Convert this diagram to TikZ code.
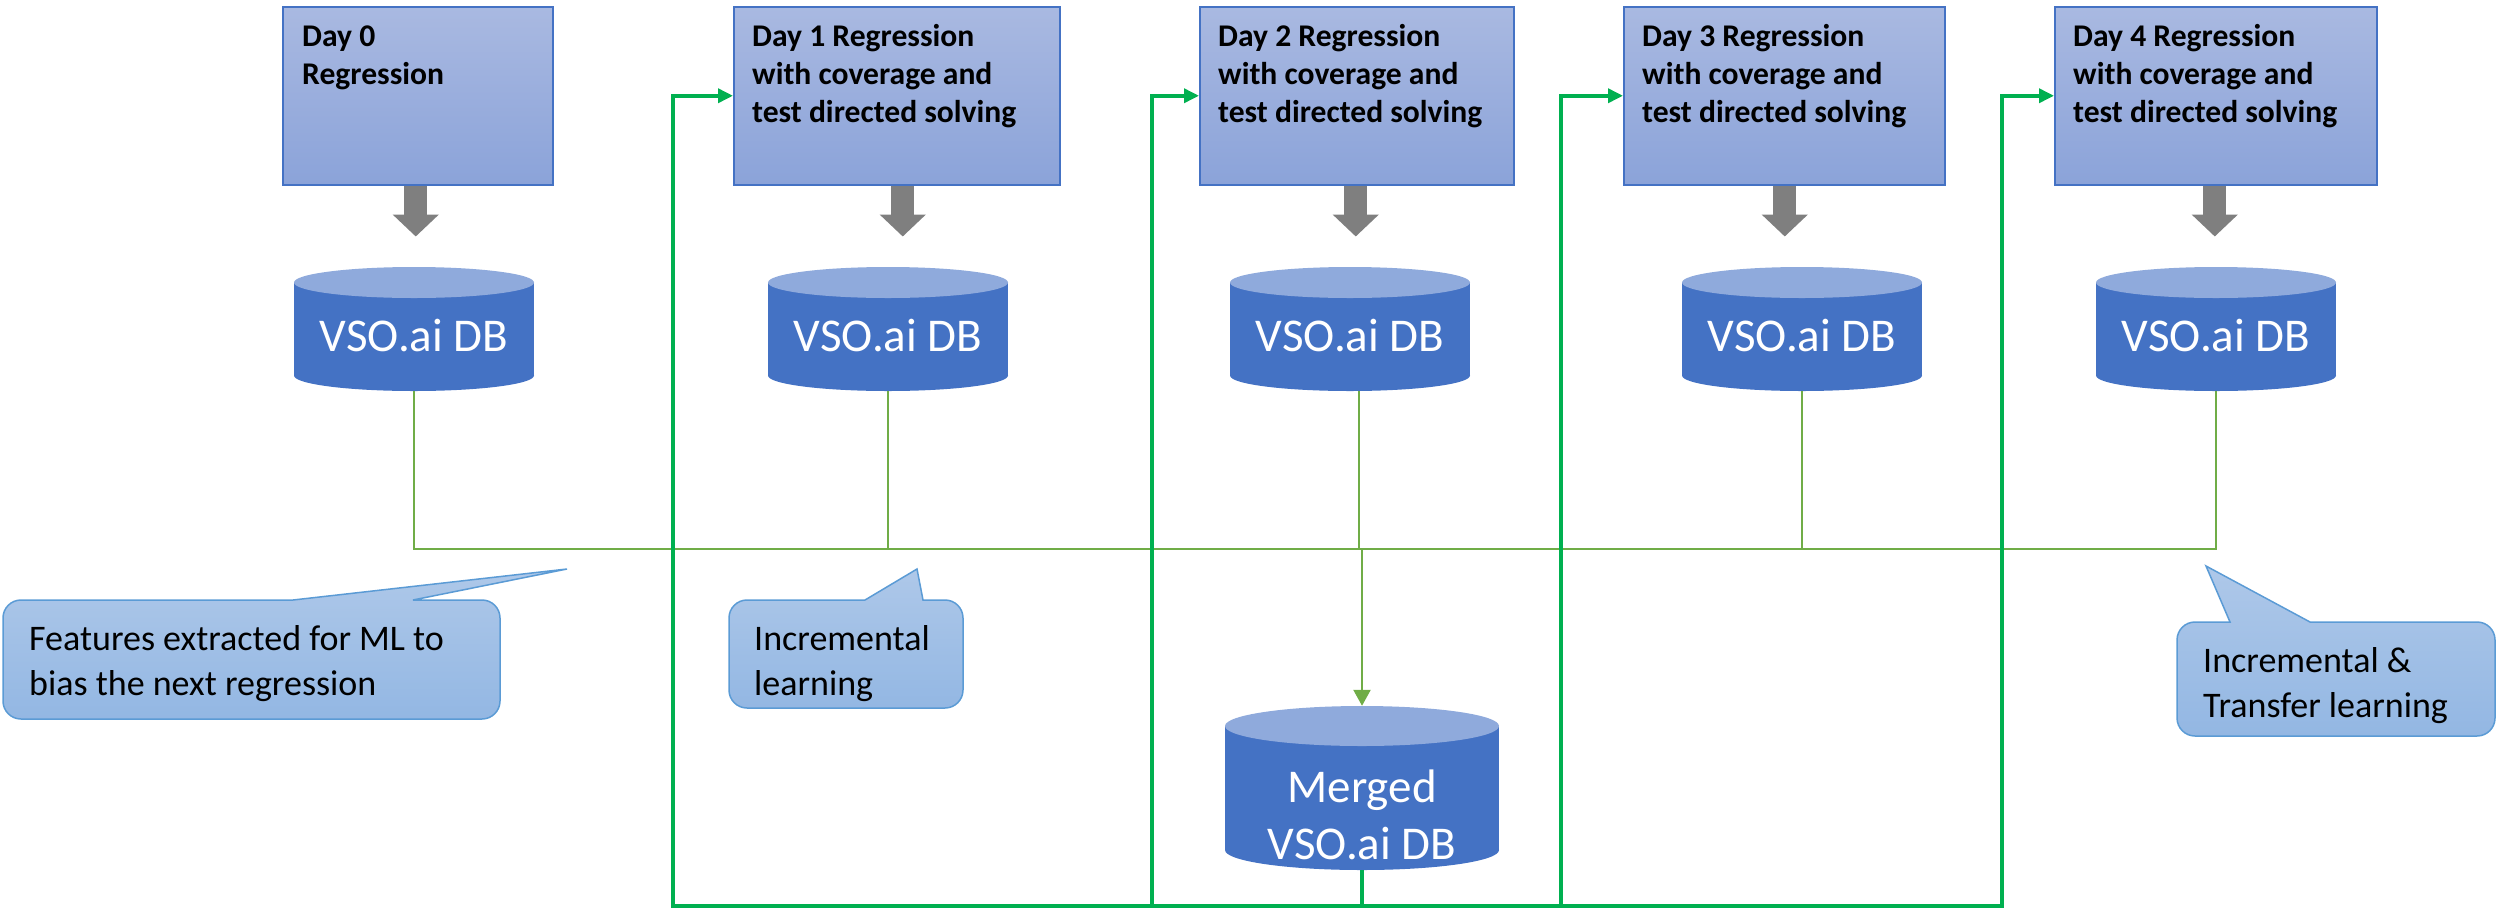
\documentclass[tikz,border=0pt]{standalone}
\usepackage{fontspec}
\setmainfont{Carlito}
\usetikzlibrary{arrows.meta,calc}
\definecolor{cBoxTop}{HTML}{A9B9E1}
\definecolor{cBoxBot}{HTML}{8BA3D9}
\definecolor{cBoxLine}{HTML}{4472C4}
\definecolor{cDBbody}{HTML}{4472C4}
\definecolor{cDBtop}{HTML}{8FAADC}
\definecolor{cCallTop}{HTML}{AEC8E9}
\definecolor{cCallBot}{HTML}{93B7E3}
\definecolor{cCallLine}{HTML}{5B9BD5}
\definecolor{cLGreen}{HTML}{70AD47}
\definecolor{cDGreen}{HTML}{00B050}
\definecolor{cGray}{HTML}{7F7F7F}
\tikzset{
  daybox/.style={draw=cBoxLine, line width=1.5pt, top color=cBoxTop, bottom color=cBoxBot,
    minimum height=178pt, inner sep=0pt, anchor=north west, shape=rectangle},
  daytext/.style={font=\fontsize{31.6}{38}\selectfont\bfseries, align=left, anchor=base west, inner sep=0pt},
  dbnode/.style={shape=rectangle, inner sep=0pt, draw=none},
  dbtext/.style={font=\fontsize{47}{57}\selectfont, text=white, align=center, anchor=base, inner sep=0pt},
  calltext/.style={font=\fontsize{36}{45}\selectfont, align=left, anchor=base west, inner sep=0pt},
  callout/.style={draw=cCallLine, line width=1.5pt, top color=cCallTop, bottom color=cCallBot},
  grayarrow/.style={draw=cGray, line width=23pt, -{Triangle[width=45pt,length=22pt]}},
  tg/.style={draw=cLGreen, line width=2.3pt},
  tk/.style={draw=cDGreen, line width=3.5pt},
}
\newcommand\dbcyl[6]{%
  \fill[cDBbody] ({#2-#4/2},{#3-#5/2+#6}) rectangle ({#2+#4/2},{#3+#5/2-#6});
  \fill[cDBbody] (#2,{#3+#5/2-#6}) ellipse[x radius={#4/2}, y radius=#6];
  \fill[cDBtop] (#2,{#3-#5/2+#6}) ellipse[x radius={#4/2}, y radius=#6];
  \node[dbnode, minimum width=#4pt, minimum height=#5pt] (#1) at (#2,#3) {};
}
\begin{document}
\begin{tikzpicture}[x=1pt,y=-1pt]
\useasboundingbox (0,0) rectangle (2496,908);

% Day boxes
\node[daybox, minimum width=270pt] (d0) at (282,6) {};
\node[daybox, minimum width=326pt] (d1) at (733,6) {};
\node[daybox, minimum width=314pt] (d2) at (1199,6) {};
\node[daybox, minimum width=321pt] (d3) at (1623,6) {};
\node[daybox, minimum width=322pt] (d4) at (2054,6) {};

% (base anchor = baseline of the last line)
\node[daytext] (d0t) at (302,84) {Day 0\\Regression};
\node[daytext] (d1t) at (752,122) {Day 1 Regression\\with coverage and\\test directed solving};
\node[daytext] (d2t) at (1218,122) {Day 2 Regression\\with coverage and\\test directed solving};
\node[daytext] (d3t) at (1642,122) {Day 3 Regression\\with coverage and\\test directed solving};
\node[daytext] (d4t) at (2073,122) {Day 4 Regression\\with coverage and\\test directed solving};

% Databases
\dbcyl{db0}{414}{329}{240}{124}{15.5}
\dbcyl{db1}{888}{329}{240}{124}{15.5}
\dbcyl{db2}{1350}{329}{240}{124}{15.5}
\dbcyl{db3}{1802}{329}{240}{124}{15.5}
\dbcyl{db4}{2216}{329}{240}{124}{15.5}
\dbcyl{mdb}{1362}{788}{274}{164}{20}

\node[dbtext] (db0t) at (414,351) {VSO.ai DB};
\node[dbtext] (db1t) at (888,351) {VSO.ai DB};
\node[dbtext] (db2t) at (1350,351) {VSO.ai DB};
\node[dbtext] (db3t) at (1802,351) {VSO.ai DB};
\node[dbtext] (db4t) at (2216,351) {VSO.ai DB};
\node[dbtext] (mdbt) at (1362,859) {Merged\\VSO.ai DB};

% Gray block arrows
\draw[grayarrow] ([xshift=-2pt]d0.south) -- ++(0,51);
\draw[grayarrow] ([xshift=6pt]d1.south) -- ++(0,51);
\draw[grayarrow] ([xshift=-1pt]d2.south) -- ++(0,51);
\draw[grayarrow] ([xshift=0.5pt]d3.south) -- ++(0,51);
\draw[grayarrow] ([xshift=-1pt]d4.south) -- ++(0,51);

% Thin green collection lines
\coordinate (hl) at (0,549);
\draw[tg] (db0.south) |- (db4.south |- hl) -- (db4.south);
\draw[tg] (db1.south) -- (db1.south |- hl);
\draw[tg] ([xshift=9pt]db2.south) -- ([xshift=9pt]db2.south |- hl);
\draw[tg] (db3.south) -- (db3.south |- hl);
\draw[tg, -{Triangle[width=17pt,length=16pt]}] (mdb.north |- hl) -- (mdb.north);

% Thick green feedback lines
\coordinate (bus) at (1362,906);
\coordinate (k1) at (673,906);
\coordinate (k2) at (1152,906);
\coordinate (k3) at (1561,906);
\coordinate (k4) at (2002,906);
\draw[tk] (mdb.south) -- (bus);
\draw[tk, -{Triangle[width=14pt,length=15pt]}] (bus) -- (k1) |- (d1.west);
\draw[tk, -{Triangle[width=14pt,length=15pt]}] (bus) -- (k2) |- (d2.west);
\draw[tk, -{Triangle[width=14pt,length=15pt]}] (bus) -- (k3) |- (d3.west);
\draw[tk, -{Triangle[width=14pt,length=15pt]}] (bus) -- (k4) |- (d4.west);

% Callouts
\draw[callout] (293,600) -- (567,569) -- (413,600) -- (482,600)
  arc[start angle=-90,end angle=0,radius=18] -- (500,701)
  arc[start angle=0,end angle=90,radius=18] -- (21,719)
  arc[start angle=90,end angle=180,radius=18] -- (3,618)
  arc[start angle=180,end angle=270,radius=18] -- cycle;
\draw[callout] (865,600) -- (917,569) -- (923,600) -- (945,600)
  arc[start angle=-90,end angle=0,radius=18] -- (963,690)
  arc[start angle=0,end angle=90,radius=18] -- (747,708)
  arc[start angle=90,end angle=180,radius=18] -- (729,618)
  arc[start angle=180,end angle=270,radius=18] -- cycle;
\draw[callout] (2230,622) -- (2206,566) -- (2310,622) -- (2477,622)
  arc[start angle=-90,end angle=0,radius=18] -- (2495,718)
  arc[start angle=0,end angle=90,radius=18] -- (2195,736)
  arc[start angle=90,end angle=180,radius=18] -- (2177,640)
  arc[start angle=180,end angle=270,radius=18] -- cycle;

\node[calltext] (c1t) at (29,695) {Features extracted for ML to\\bias the next regression};
\node[calltext] (c2t) at (754,695) {Incremental\\learning};
\node[calltext] (c3t) at (2203,717) {Incremental \&\\Transfer learning};
\end{tikzpicture}
\end{document}
